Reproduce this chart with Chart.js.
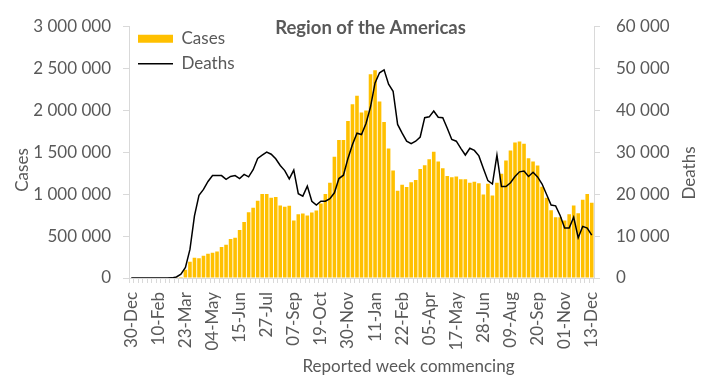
<!DOCTYPE html>
<html>
<head>
<meta charset="utf-8">
<script src="https://cdn.jsdelivr.net/npm/chart.js@4"></script>
<style>
  body { margin: 0; background: #fff; }
</style>
</head>
<body>
<canvas id="grafica" width="711" height="386"></canvas>
<script>
// semanas (lunes) desde 30-Dec-2019 hasta 13-Dec-2021
const semanas = [
  '30-Dec','06-Jan','13-Jan','20-Jan','27-Jan','03-Feb','10-Feb','17-Feb','24-Feb','02-Mar',
  '09-Mar','16-Mar','23-Mar','30-Mar','06-Apr','13-Apr','20-Apr','27-Apr','04-May','11-May',
  '18-May','25-May','01-Jun','08-Jun','15-Jun','22-Jun','29-Jun','06-Jul','13-Jul','20-Jul',
  '27-Jul','03-Aug','10-Aug','17-Aug','24-Aug','31-Aug','07-Sep','14-Sep','21-Sep','28-Sep',
  '05-Oct','12-Oct','19-Oct','26-Oct','02-Nov','09-Nov','16-Nov','23-Nov','30-Nov','07-Dec',
  '14-Dec','21-Dec','28-Dec','04-Jan','11-Jan','18-Jan','25-Jan','01-Feb','08-Feb','15-Feb',
  '22-Feb','01-Mar','08-Mar','15-Mar','22-Mar','29-Mar','05-Apr','12-Apr','19-Apr','26-Apr',
  '03-May','10-May','17-May','24-May','31-May','07-Jun','14-Jun','21-Jun','28-Jun','05-Jul',
  '12-Jul','19-Jul','26-Jul','02-Aug','09-Aug','16-Aug','23-Aug','30-Aug','06-Sep','13-Sep',
  '20-Sep','27-Sep','04-Oct','11-Oct','18-Oct','25-Oct','01-Nov','08-Nov','15-Nov','22-Nov',
  '29-Nov','06-Dec','13-Dec'
];

// casos semanales
const casos = [
  0, 0, 0, 0, 0, 0, 0, 0, 0, 0,
  2000, 12000, 97000, 195000, 242000, 234000, 265000, 288000, 300000, 316000,
  370000, 397000, 464000, 479000, 573000, 666000, 783000, 838000, 920000, 1002000,
  1002000, 955000, 966000, 865000, 850000, 861000, 686000, 760000, 768000, 744000,
  779000, 803000, 888000, 1002000, 1134000, 1446000, 1645000, 1645000, 1871000, 2069000,
  2171000, 1972000, 1995000, 2428000, 2475000, 2104000, 1859000, 1543000, 1282000, 1040000,
  1111000, 1083000, 1142000, 1169000, 1298000, 1344000, 1415000, 1504000, 1387000, 1309000,
  1216000, 1200000, 1208000, 1177000, 1177000, 1134000, 1146000, 1130000, 994000, 1122000,
  982000, 1134000, 1243000, 1399000, 1520000, 1613000, 1625000, 1598000, 1426000, 1387000,
  1341000, 1087000, 955000, 807000, 725000, 725000, 686000, 760000, 865000, 772000,
  931000, 1002000, 896000
];

// muertes semanales
const muertes = [
  0, 0, 0, 0, 0, 0, 0, 0, 0, 30,
  250, 900, 2500, 6800, 14800, 19700, 21100, 23000, 24400, 24400,
  24400, 23500, 24200, 24400, 23700, 24700, 24100, 25800, 28500, 29300,
  30000, 29500, 28400, 26800, 25600, 23600, 25700, 20100, 19500, 21900,
  18300, 17400, 18300, 18300, 18900, 20300, 23700, 24500, 28500, 31800,
  34500, 34200, 36800, 40800, 46500, 48900, 49600, 46200, 44500, 36600,
  34500, 32600, 32000, 32600, 33600, 38200, 38400, 39800, 38300, 38200,
  35700, 33000, 32600, 30900, 29300, 30900, 30400, 29100, 26100, 23200,
  22400, 29300, 21800, 21800, 22700, 24200, 25300, 25500, 24200, 25200,
  24100, 22400, 19900, 17400, 17200, 14900, 11900, 11900, 14500, 9600,
  12300, 11900, 10200
];

const tituloGrafica = 'Region of the Americas';
const tituloEjeX = 'Reported week commencing';
const tituloCasos = 'Cases';
const tituloMuertes = 'Deaths';

const colorTexto = '#595959';
const colorEje = '#d9d9d9';
const fuente = 'Lato, "Liberation Sans", sans-serif';

Chart.defaults.font.family = fuente;
Chart.defaults.font.size = 17;
Chart.defaults.color = colorTexto;

// para poner espacios como separador de miles
function formatoMiles(valor) {
    return String(valor).replace(/\B(?=(\d{3})+(?!\d))/g, ' ');
}

// para dibujar el titulo y los titulos de los ejes donde estan en la imagen
const titulosPlugin = {
    id: 'titulos',
    beforeDraw(chart) {
        // la leyenda va dentro del area, arriba a la izquierda
        if (chart.legend) {
            chart.legend.top = chart.chartArea.top - 4;
            chart.legend.left = chart.chartArea.left + 1;
        }
    },
    afterDraw(chart) {
        const ctx = chart.ctx;
        const area = chart.chartArea;
        ctx.save();
        ctx.fillStyle = colorTexto;
        ctx.textAlign = 'center';
        ctx.textBaseline = 'alphabetic';

        ctx.font = 'bold 18.5px ' + fuente;
        ctx.fillText(tituloGrafica, (area.left + area.right) / 2 + 9, area.top + 8);

        ctx.font = '17px ' + fuente;
        ctx.fillText(tituloEjeX, (area.left + area.right) / 2 + 47, 372);

        ctx.save();
        ctx.translate(28, 170);
        ctx.rotate(-Math.PI / 2);
        ctx.fillText(tituloCasos, 0, 0);
        ctx.restore();

        ctx.save();
        ctx.translate(695, 173);
        ctx.rotate(-Math.PI / 2);
        ctx.fillText(tituloMuertes, 0, 0);
        ctx.restore();

        ctx.restore();
    }
};

const ctx = document.getElementById('grafica');

new Chart(ctx, {
    type: 'bar',
    data: {
        labels: semanas,
        datasets: [
            {
                type: 'bar',
                label: tituloCasos,
                data: casos,
                backgroundColor: '#ffc000',
                borderWidth: 0,
                barPercentage: 0.8,
                categoryPercentage: 1.0,
                pointStyle: 'rect',
                yAxisID: 'y',
                order: 1
            },
            {
                type: 'line',
                label: tituloMuertes,
                data: muertes,
                borderColor: '#000000',
                backgroundColor: '#000000',
                borderWidth: 1.5,
                pointRadius: 0,
                pointStyle: 'line',
                tension: 0,
                fill: false,
                yAxisID: 'y1',
                order: 0
            }
        ]
    },
    options: {
        responsive: false,
        animation: false,
        layout: {
            padding: { left: 33, right: 27, top: 21, bottom: 0 }
        },
        plugins: {
            title: { display: false },
            tooltip: { enabled: false },
            legend: {
                position: 'chartArea',
                align: 'start',
                labels: {
                    usePointStyle: true,
                    pointStyleWidth: 35,
                    boxHeight: 8,
                    padding: 8,
                    color: colorTexto,
                    font: { size: 17 },
                    sort: (a, b) => a.datasetIndex - b.datasetIndex
                }
            }
        },
        scales: {
            x: {
                offset: true,
                grid: { offset: true, drawOnChartArea: false, tickLength: 5, color: colorEje },
                border: { color: colorEje },
                ticks: {
                    autoSkip: false,
                    minRotation: 90,
                    maxRotation: 90,
                    padding: 9,
                    callback: function (valor, i) {
                        return i % 6 === 0 ? this.getLabelForValue(valor) : '';
                    }
                },
                afterFit: (eje) => { eje.height = 108; }
            },
            y: {
                position: 'left',
                min: 0,
                max: 3000000,
                grid: { drawOnChartArea: false, tickLength: 6, color: colorEje },
                border: { color: colorEje },
                ticks: { stepSize: 500000, padding: 12, callback: formatoMiles },
                afterFit: (eje) => { eje.width = 96; }
            },
            y1: {
                position: 'right',
                min: 0,
                max: 60000,
                grid: { drawOnChartArea: false, tickLength: 6, color: colorEje },
                border: { color: colorEje },
                ticks: { stepSize: 10000, padding: 16, callback: formatoMiles },
                afterFit: (eje) => { eje.width = 90; }
            }
        }
    },
    plugins: [titulosPlugin]
});
</script>
</body>
</html>
